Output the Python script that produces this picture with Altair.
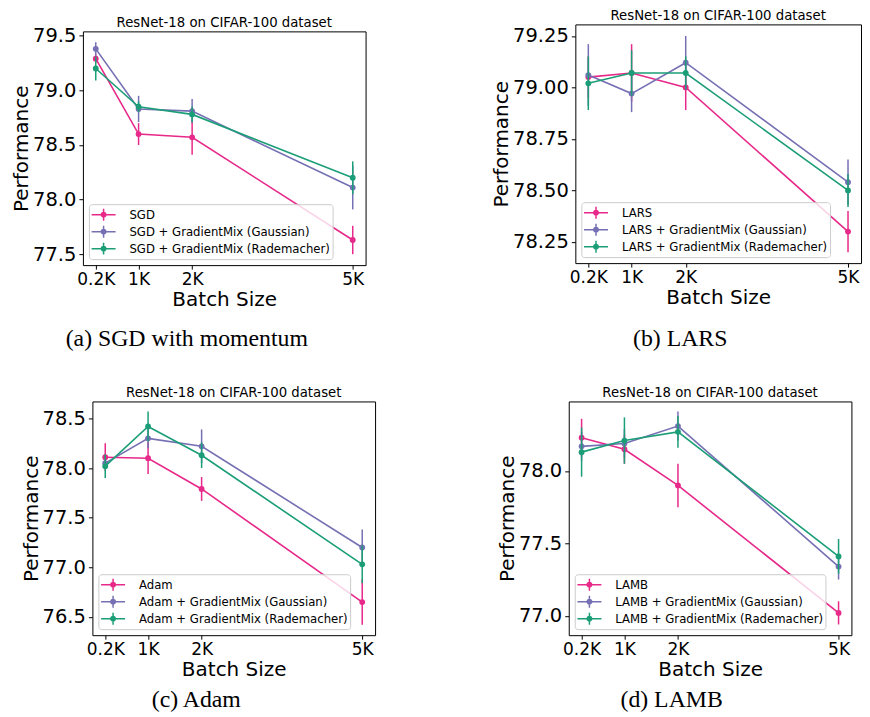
import altair as alt
import pandas as pd

# ---------------- data ----------------
BATCH = [200, 1000, 2000, 5000]
BATCH_LABELS = ["0.2K", "1K", "2K", "5K"]
COLORS = ["#e7298a", "#7570b3", "#1b9e77"]

# (a) SGD with momentum
SGD_MEAN = [79.29, 78.60, 78.57, 77.63]
SGD_ERR = [0.04, 0.10, 0.16, 0.13]
SGD_GAU_MEAN = [79.38, 78.83, 78.81, 78.11]
SGD_GAU_ERR = [0.06, 0.12, 0.11, 0.20]
SGD_RAD_MEAN = [79.20, 78.85, 78.78, 78.20]
SGD_RAD_ERR = [0.11, 0.05, 0.07, 0.15]

# (b) LARS
LARS_MEAN = [79.05, 79.07, 79.00, 78.30]
LARS_ERR = [0.10, 0.14, 0.11, 0.10]
LARS_GAU_MEAN = [79.06, 78.97, 79.12, 78.54]
LARS_GAU_ERR = [0.15, 0.09, 0.13, 0.11]
LARS_RAD_MEAN = [79.02, 79.07, 79.07, 78.50]
LARS_RAD_ERR = [0.13, 0.11, 0.08, 0.08]

# (c) Adam
ADAM_MEAN = [78.11, 78.10, 77.79, 76.65]
ADAM_ERR = [0.14, 0.16, 0.12, 0.23]
ADAM_GAU_MEAN = [78.05, 78.30, 78.22, 77.20]
ADAM_GAU_ERR = [0.03, 0.10, 0.17, 0.18]
ADAM_RAD_MEAN = [78.02, 78.42, 78.13, 77.03]
ADAM_RAD_ERR = [0.12, 0.15, 0.13, 0.19]

# (d) LAMB
LAMB_MEAN = [78.23, 78.15, 77.90, 77.02]
LAMB_ERR = [0.13, 0.10, 0.15, 0.08]
LAMB_GAU_MEAN = [78.17, 78.19, 78.31, 77.34]
LAMB_GAU_ERR = [0.10, 0.10, 0.10, 0.09]
LAMB_RAD_MEAN = [78.13, 78.21, 78.27, 77.41]
LAMB_RAD_ERR = [0.17, 0.16, 0.11, 0.12]

TITLE = "ResNet-18 on CIFAR-100 dataset"
FONT = "DejaVu Sans"

s = 6.5  # legend symbol scale (sqrt(size)/2)
circ = "".join(
    f"M{r:.3f},0A{r:.3f},{r:.3f} 0 1,1 {-r:.3f},0A{r:.3f},{r:.3f} 0 1,1 {r:.3f},0Z"
    for r in (0.75 / s, 1.5 / s, 2.25 / s)
)
SYMBOL = f"M-{12 / s:.3f},0H{12 / s:.3f}M0,-{6 / s:.3f}V{6 / s:.3f}" + circ

LABEL_EXPR = " : ".join(
    f"datum.value == {b} ? '{l}'" for b, l in zip(BATCH, BATCH_LABELS)
) + " : ''"


def panel(opt, series, width, height, ydomain, yticks, yfmt, caption, cap_x, cap_y, toff=2):
    names = [opt, f"{opt} + GradientMix (Gaussian)", f"{opt} + GradientMix (Rademacher)"]
    rows = []
    for name, (m, e) in zip(names, series):
        for b, mv, ev in zip(BATCH, m, e):
            rows.append({"batch": b, "perf": mv, "lo": mv - ev, "hi": mv + ev, "series": name})
    df = pd.DataFrame(rows)

    xax = alt.Axis(values=BATCH, labelExpr=LABEL_EXPR, title="Batch Size")
    yax = alt.Axis(values=yticks, format=yfmt, title="Performance")
    xs = alt.Scale(domain=[-40, 5240], nice=False, zero=False)
    ys = alt.Scale(domain=ydomain, nice=False, zero=False)
    legend = alt.Legend(
        title=None, orient="bottom-left", offset=6, padding=2,
        symbolType=SYMBOL, symbolSize=(2 * s) ** 2, symbolStrokeWidth=1.5,
        symbolOffset=5.2, labelOffset=18.4, rowPadding=0, clipHeight=17,
        labelFont=FONT, labelFontSize=11.7, labelColor="black", labelLimit=400,
        strokeColor="#cccccc", fillColor="rgba(255,255,255,0.8)", cornerRadius=3,
    )
    col = alt.Color("series:N", scale=alt.Scale(domain=names, range=COLORS), legend=legend)
    base = alt.Chart(df)
    layers = []
    for name in names:
        sub = base.transform_filter(alt.datum.series == name)
        layers.append(sub.mark_line(strokeWidth=1.6).encode(
            x=alt.X("batch:Q", scale=xs, axis=xax),
            y=alt.Y("perf:Q", scale=ys, axis=yax), color=col))
        layers.append(sub.mark_rule(strokeWidth=1.5).encode(
            x=alt.X("batch:Q", scale=xs, axis=xax),
            y=alt.Y("lo:Q", scale=ys, axis=yax), y2="hi:Q", color=col))
        layers.append(sub.mark_circle(size=34, opacity=1).encode(
            x=alt.X("batch:Q", scale=xs, axis=xax),
            y=alt.Y("perf:Q", scale=ys, axis=yax), color=col))
    cap = alt.Chart(pd.DataFrame({"t": [caption]})).mark_text(
        font="Liberation Serif", fontSize=23.8, align="center", baseline="alphabetic", color="black"
    ).encode(text="t:N", x=alt.value(cap_x), y=alt.value(cap_y))
    layers.append(cap)
    return alt.layer(*layers).properties(
        width=width, height=height,
        title=alt.TitleParams(TITLE, font=FONT, fontSize=13.3, fontWeight="normal",
                              color="black", offset=toff, anchor="middle", frame="group"),
    )


def spacer():
    # an empty 1x1 view used only to nudge a panel in the concat layout
    return alt.Chart(pd.DataFrame({"v": []})).mark_point().properties(
        width=1, height=1, view=alt.ViewBackground(stroke="transparent"))


pa = panel("SGD", [(SGD_MEAN, SGD_ERR), (SGD_GAU_MEAN, SGD_GAU_ERR), (SGD_RAD_MEAN, SGD_RAD_ERR)],
           283, 234, [77.40, 79.54], [77.5, 78.0, 78.5, 79.0, 79.5], ".1f",
           "(a)  SGD with momentum", 104, 315, toff=-3.35)
pb = panel("LARS", [(LARS_MEAN, LARS_ERR), (LARS_GAU_MEAN, LARS_GAU_ERR), (LARS_RAD_MEAN, LARS_RAD_ERR)],
           286, 239, [78.147, 79.306], [78.25, 78.5, 78.75, 79.0, 79.25], ".2f",
           "(b)  LARS", 105, 322)
pc = panel("Adam", [(ADAM_MEAN, ADAM_ERR), (ADAM_GAU_MEAN, ADAM_GAU_ERR), (ADAM_RAD_MEAN, ADAM_RAD_ERR)],
           283, 234, [76.316, 78.672], [76.5, 77.0, 77.5, 78.0, 78.5], ".1f",
           "(c)  Adam", 104, 306)
pd_ = panel("LAMB", [(LAMB_MEAN, LAMB_ERR), (LAMB_GAU_MEAN, LAMB_GAU_ERR), (LAMB_RAD_MEAN, LAMB_RAD_ERR)],
            283, 234, [76.866, 78.48], [77.0, 77.5, 78.0], ".1f",
            "(d)  LAMB", 103, 306)

res = dict(x="independent", y="independent", color="independent")

col_a = alt.vconcat(spacer(), pa, spacing=-12).resolve_scale(**res)
row1 = alt.hconcat(col_a, pb, spacing=124).resolve_scale(**res)
inner_c = alt.hconcat(spacer(), pc, spacing=-64.5).resolve_scale(**res)
row2 = alt.hconcat(inner_c, pd_, spacing=121.4).resolve_scale(**res)

chart = alt.vconcat(row1, row2, spacing=33.5).resolve_scale(**res).properties(
    padding={"left": 3, "top": 0, "right": 0, "bottom": 0}
).configure(font=FONT).configure_view(
    stroke="black", strokeWidth=1
).configure_axis(
    grid=False, domain=False, tickColor="black", tickSize=4, tickWidth=1,
    labelColor="black", titleColor="black", labelFont=FONT, titleFont=FONT,
    titleFontWeight="normal", titleFontSize=20,
).configure_axisX(
    labelFontSize=17, labelPadding=2.5, titlePadding=2,
).configure_axisY(
    labelFontSize=19.5, labelPadding=3, titlePadding=1,
)

chart.save("out.html", embed_options={"renderer": "svg", "actions": False})
